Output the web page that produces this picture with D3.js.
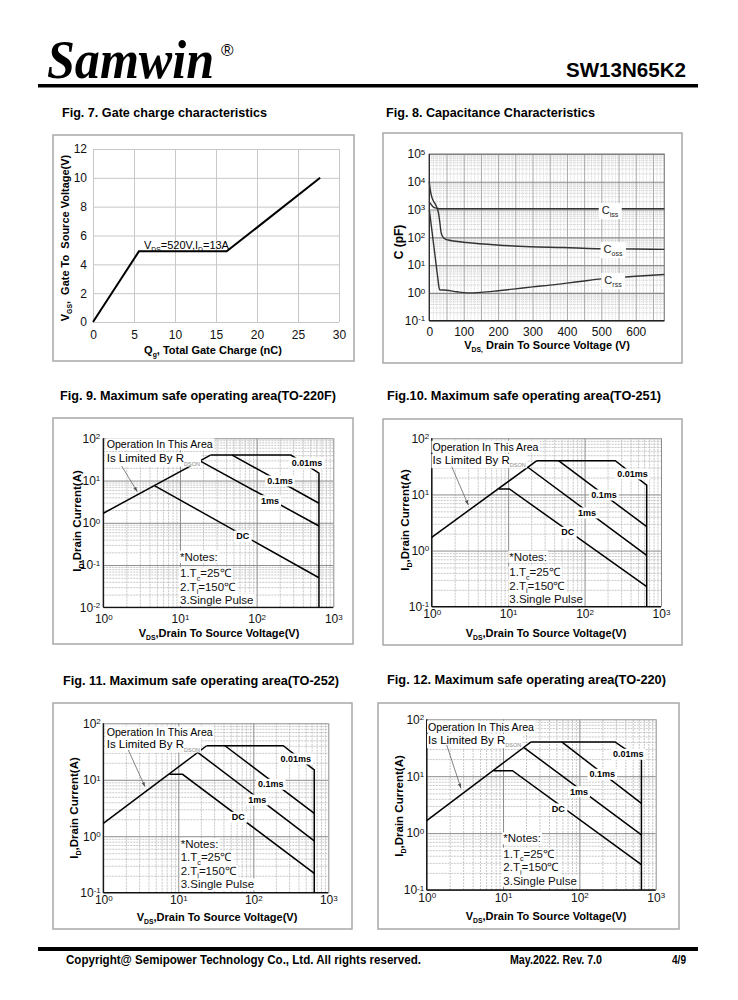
<!DOCTYPE html>
<html><head><meta charset="utf-8">
<script src="https://cdn.jsdelivr.net/npm/d3@7"></script>
<style>body{margin:0;background:#fff;} svg{display:block;font-family:"Liberation Sans",Arial,sans-serif;} text{white-space:pre;}</style>
</head><body><svg id="page" width="738" height="1000"></svg>
<script>
// ---------------- DATA ----------------
// Fig 7 gate charge
const gateQg = [0, 5.6, 16.3, 27.7];
const gateVgs = [0, 4.9, 4.9, 10];
const gateXTicks = [0, 5, 10, 15, 20, 25, 30];
const gateYTicks = [0, 2, 4, 6, 8, 10, 12];

// Fig 8 capacitance
const capXTicks = [0, 100, 200, 300, 400, 500, 600];
const capYTicks = [0.1, 1, 10, 100, 1000, 10000, 100000];
const cissV = [0, 5, 10, 15, 20, 25, 30, 50, 100, 683];
const cissC = [1900, 1550, 1300, 1180, 1120, 1090, 1075, 1070, 1070, 1070];
const cossV = [0, 3, 7, 12, 19, 23, 27, 31, 34, 39, 45, 55, 70, 108, 196, 293, 390, 487, 600, 683];
const cossC = [10000, 5000, 2900, 2040, 1450, 1100, 720, 316, 158, 105, 89, 80, 74, 65, 53, 46, 43, 39, 38, 37];
const crssV = [0, 5, 10, 15, 20, 25, 28, 30, 50, 80, 110, 150, 200, 250, 300, 350, 400, 450, 500, 550, 600, 683];
const crssC = [1000, 320, 100, 32, 10, 3.2, 1.6, 1.3, 1.25, 1.1, 1.0, 1.05, 1.2, 1.4, 1.65, 1.9, 2.25, 2.7, 3.2, 3.6, 4.0, 4.6];

// SOA charts
const soaXTicks = [1, 10, 100, 1000];
const fig9YTicks = [0.01, 0.1, 1, 10, 100];
const soaYTicks = [0.1, 1, 10, 100];

const fig9Rdson = [[1, 1.68], [25, 40]];
const fig9Ms001 = [[25, 40], [280, 40], [650, 15], [650, 0.01]];
const fig9Ms01 = [[48, 40], [650, 2.9]];
const fig9Ms1 = [[18.2, 29.3], [650, 0.84]];
const fig9DC = [[4.7, 7.5], [650, 0.05]];

const fig10Rdson = [[1, 1.72], [23.8, 40]];
const fig10Ms001 = [[23.8, 40], [252, 40], [650, 14.7], [650, 0.1]];
const fig10Ms01 = [[45.6, 40], [650, 2.66]];
const fig10Ms1 = [[18.1, 30.5], [650, 0.82]];
const fig10DC = [[7.6, 12.5], [10.4, 12.5], [650, 0.227]];

const fig11Rdson = [[1, 1.69], [23.9, 40]];
const fig11Ms001 = [[23.9, 40], [251, 40], [650, 14.9], [650, 0.1]];
const fig11Ms01 = [[41.9, 40], [650, 2.54]];
const fig11Ms1 = [[18.5, 30], [650, 0.83]];
const fig11DC = [[7.6, 12.5], [11.4, 12.5], [650, 0.22]];

const fig12Rdson = [[1, 1.66], [23.3, 40]];
const fig12Ms001 = [[23.3, 40], [293, 40], [650, 19.3], [650, 0.1]];
const fig12Ms01 = [[58.7, 40], [650, 3.34]];
const fig12Ms1 = [[19, 31.5], [650, 0.93]];
const fig12DC = [[7.5, 12.5], [13.3, 12.5], [650, 0.28]];

// ---------------- DRAWING ----------------
const FONT = '"Liberation Sans", Arial, sans-serif';
const SERIF = '"Liberation Serif", "Times New Roman", serif';
const svg = d3.select('#page');
svg.append('rect').attr('width', 738).attr('height', 1000).attr('fill', '#fff');

function richText(g, x, y, parts, size, opts = {}) {
  const t = g.append('text').attr('x', x).attr('y', y).attr('font-size', size)
    .attr('font-family', FONT).attr('fill', opts.fill || '#000');
  if (opts.weight) t.attr('font-weight', opts.weight);
  if (opts.anchor) t.attr('text-anchor', opts.anchor);
  if (opts.transform) t.attr('transform', opts.transform);
  if (opts.len) t.attr('textLength', opts.len).attr('lengthAdjust', 'spacingAndGlyphs');
  let shift = 0;
  parts.forEach(p => {
    const s = t.append('tspan').text(p.t);
    const target = p.sub ? size * 0.28 : (p.sup ? -size * 0.42 : 0);
    if (target - shift !== 0) s.attr('dy', target - shift);
    shift = target;
    if (p.sub || p.sup) s.attr('font-size', p.size || size * 0.62);
    if (p.fill) s.attr('fill', p.fill);
  });
  return t;
}
function withBg(g, t, padX = 1, padY = 0) {
  const b = t.node().getBBox();
  g.insert('rect', () => t.node()).attr('x', b.x - padX).attr('y', b.y - padY)
    .attr('width', b.width + 2 * padX).attr('height', b.height + 2 * padY).attr('fill', '#fff');
  return t;
}
function frame(x, y, w, h) {
  svg.append('rect').attr('x', x).attr('y', y).attr('width', w).attr('height', h)
    .attr('fill', 'none').attr('stroke', '#a8a8a8').attr('stroke-width', 1.5);
}
function styleAxis(a, color, width, dash) {
  a.select('.domain').remove();
  a.selectAll('.tick line').attr('stroke', color).attr('stroke-width', width).attr('stroke-dasharray', dash || null);
  a.attr('font-family', FONT).attr('font-size', 12);
  a.selectAll('.tick text').attr('fill', '#111');
}
function supLabels(a) {
  a.selectAll('.tick text').each(function (d) {
    const t = d3.select(this); t.text(null);
    t.append('tspan').text('10');
    t.append('tspan').attr('dy', '-0.45em').attr('font-size', 8).text(String(Math.round(Math.log10(d))));
  });
}
function logMinors(lo, hi) {
  const out = [];
  for (let d = Math.round(Math.log10(lo)); d < Math.round(Math.log10(hi)); d++)
    for (let k = 2; k <= 9; k++) out.push(k * Math.pow(10, d));
  return out;
}

// Header
const logo = svg.append('text').attr('x', 47).attr('y', 78).attr('font-family', SERIF);
logo.append('tspan').attr('font-style', 'italic').attr('font-weight', 'bold').attr('font-size', 54)
  .attr('textLength', 167).attr('lengthAdjust', 'spacingAndGlyphs').text('Samwin');
logo.append('tspan').attr('x', 221).attr('dy', -22).attr('font-family', FONT).attr('font-size', 17).text('®');
svg.append('text').attr('x', 566).attr('y', 77).attr('font-family', FONT).attr('font-weight', 'bold').attr('font-size', 20)
  .attr('textLength', 120).attr('lengthAdjust', 'spacingAndGlyphs').text('SW13N65K2');
svg.append('rect').attr('x', 38).attr('y', 84).attr('width', 660).attr('height', 3.5).attr('fill', '#000');

// Footer
svg.append('rect').attr('x', 38).attr('y', 947).attr('width', 660).attr('height', 4).attr('fill', '#000');
[['Copyright@ Semipower Technology Co., Ltd. All rights reserved.', 66, 355],
 ['May.2022. Rev. 7.0', 510, 92], ['4/9', 672, 14]].forEach(([s, x, w]) => {
  svg.append('text').attr('x', x).attr('y', 964).attr('font-family', FONT).attr('font-weight', 'bold')
    .attr('font-size', 12).attr('textLength', w).attr('lengthAdjust', 'spacingAndGlyphs').text(s);
});

// Figure titles
[['Fig. 7. Gate charge characteristics', 62, 205, 116.5],
 ['Fig. 8. Capacitance Characteristics', 386, 209, 116.5],
 ['Fig. 9. Maximum safe operating area(TO-220F)', 60, 276, 399.5],
 ['Fig.10. Maximum safe operating area(TO-251)', 387, 274, 399.5],
 ['Fig. 11. Maximum safe operating area(TO-252)', 63, 276, 684.5],
 ['Fig. 12. Maximum safe operating area(TO-220)', 387, 279, 683.5]].forEach(([s, x, w, y]) => {
  svg.append('text').attr('x', x).attr('y', y).attr('font-family', FONT).attr('font-weight', 'bold')
    .attr('font-size', 12.5).attr('textLength', w).attr('lengthAdjust', 'spacingAndGlyphs').text(s);
});

// ---------- Fig 7 ----------
(function () {
  frame(53, 135, 301, 226);
  const g = svg.append('g');
  const x = d3.scaleLinear([0, 30], [93, 339]);
  const y = d3.scaleLinear([0, 12], [322, 149]);
  const xa = g.append('g').attr('transform', 'translate(0,322)')
    .call(d3.axisBottom(x).tickValues(gateXTicks).tickSize(-(322 - 149)).tickPadding(8.5));
  styleAxis(xa, '#c8c8c8', 1);
  const ya = g.append('g').attr('transform', 'translate(93,0)')
    .call(d3.axisLeft(y).tickValues(gateYTicks).tickSize(-(339 - 93)).tickPadding(6));
  styleAxis(ya, '#c8c8c8', 1);
  const line = d3.line().x((d, i) => x(gateQg[i])).y((d, i) => y(gateVgs[i]));
  g.append('path').attr('d', line(gateQg)).attr('fill', 'none').attr('stroke', '#000').attr('stroke-width', 2);
  richText(g, 144, 248.5, [{ t: 'V' }, { t: 'DS', sub: true }, { t: '=520V,I' }, { t: 'D', sub: true }, { t: '=13A' }], 11);
  richText(g, 213, 354, [{ t: 'Q' }, { t: 'g', sub: true }, { t: ', Total Gate Charge (nC)' }], 11, { weight: 'bold', anchor: 'middle' });
  richText(g, 0, 4, [{ t: 'V' }, { t: 'GS', sub: true }, { t: ',  Gate To  Source Voltage(V)' }], 11,
    { weight: 'bold', anchor: 'middle', transform: 'translate(65,238) rotate(-90)' });
})();

// ---------- Fig 8 ----------
(function () {
  frame(383, 133, 299, 230);
  const g = svg.append('g');
  const X0 = 429.3, X1 = 664.3, Y0 = 154, Y1 = 320.7;
  const x = d3.scaleLinear([0, 683], [X0, X1]);
  const y = d3.scaleLog([0.1, 1e5], [Y1, Y0]);
  const vMinor = d3.range(10, 683, 10).filter(v => v % 50 !== 0);
  const vMajor = d3.range(50, 683, 50);
  styleAxis(g.append('g').attr('transform', `translate(0,${Y1})`)
    .call(d3.axisBottom(x).tickValues(vMinor).tickSize(-(Y1 - Y0)).tickFormat('')), '#c4c4c4', 0.7, '1,1');
  styleAxis(g.append('g').attr('transform', `translate(${X0},0)`)
    .call(d3.axisLeft(y).tickValues(logMinors(0.1, 1e5)).tickSize(-(X1 - X0)).tickFormat('')), '#b4b4b4', 0.7, '1,1');
  styleAxis(g.append('g').attr('transform', `translate(0,${Y1})`)
    .call(d3.axisBottom(x).tickValues(vMajor).tickSize(-(Y1 - Y0)).tickFormat('')), '#a8a8a8', 1);
  const xa = g.append('g').attr('transform', `translate(0,${Y1})`)
    .call(d3.axisBottom(x).tickValues(capXTicks).tickSize(0).tickPadding(6.5));
  styleAxis(xa, '#999', 1);
  const ya = g.append('g').attr('transform', `translate(${X0},0)`)
    .call(d3.axisLeft(y).tickValues(capYTicks).tickSize(-(X1 - X0)).tickPadding(4));
  styleAxis(ya, '#8a8a8a', 1.1); supLabels(ya);
  g.append('rect').attr('x', X0).attr('y', Y0).attr('width', X1 - X0).attr('height', Y1 - Y0)
    .attr('fill', 'none').attr('stroke', '#777').attr('stroke-width', 1);
  g.append('line').attr('x1', X0).attr('x2', X0).attr('y1', Y0).attr('y2', Y1).attr('stroke', '#222').attr('stroke-width', 1.2);
  g.append('line').attr('x1', X0).attr('x2', X1).attr('y1', Y1).attr('y2', Y1).attr('stroke', '#222').attr('stroke-width', 1.2);
  const mk = (vs, cs) => d3.line().curve(d3.curveMonotoneX).x((d, i) => x(vs[i])).y((d, i) => y(cs[i]))(vs);
  [[cissV, cissC], [cossV, cossC], [crssV, crssC]].forEach(([v, c]) =>
    g.append('path').attr('d', mk(v, c)).attr('fill', 'none').attr('stroke', '#333').attr('stroke-width', 1.4));
  [['iss', 610, 214], ['oss', 613, 253], ['rss', 613, 284]].forEach(([s, cx, cy]) => {
    withBg(g, richText(g, cx, cy, [{ t: 'C' }, { t: s, sub: true, size: 7 }], 11, { anchor: 'middle', fill: '#222' }), 3, 1);
  });
  richText(g, 547, 349, [{ t: 'V' }, { t: 'DS,', sub: true }, { t: ' Drain To Source Voltage (V)' }], 11, { weight: 'bold', anchor: 'middle' });
  richText(g, 0, 4, [{ t: 'C (pF)' }], 12, { weight: 'bold', anchor: 'middle', transform: 'translate(399,242) rotate(-90)' });
})();

// ---------- SOA charts ----------
svg.append('defs').append('marker').attr('id', 'arr').attr('viewBox', '0 0 10 10').attr('refX', 10).attr('refY', 5)
  .attr('markerWidth', 6).attr('markerHeight', 6).attr('orient', 'auto')
  .append('path').attr('d', 'M0,1.5 L10,5 L0,8.5 Z').attr('fill', '#555');

function drawSOA(c) {
  frame(...c.frame);
  const g = svg.append('g');
  const [X0, X1] = c.px, [Y0, Y1] = c.py;
  const x = d3.scaleLog([1, 1000], [X0, X1]);
  const y = d3.scaleLog(c.yDomain, [Y1, Y0]);
  styleAxis(g.append('g').attr('transform', `translate(0,${Y1})`)
    .call(d3.axisBottom(x).tickValues(logMinors(1, 1000)).tickSize(-(Y1 - Y0)).tickFormat('')), '#b0b0b0', 0.7, '2,1');
  styleAxis(g.append('g').attr('transform', `translate(${X0},0)`)
    .call(d3.axisLeft(y).tickValues(logMinors(...c.yDomain)).tickSize(-(X1 - X0)).tickFormat('')), '#b0b0b0', 0.7, '2,1');
  const xa = g.append('g').attr('transform', `translate(0,${Y1})`)
    .call(d3.axisBottom(x).tickValues(soaXTicks).tickSize(-(Y1 - Y0)).tickPadding(c.xPad));
  styleAxis(xa, '#8c8c8c', 1); supLabels(xa);
  const ya = g.append('g').attr('transform', `translate(${X0},0)`)
    .call(d3.axisLeft(y).tickValues(c.yTicks).tickSize(-(X1 - X0)).tickPadding(c.yPad));
  styleAxis(ya, '#8c8c8c', 1); supLabels(ya);
  g.append('line').attr('x1', X0).attr('x2', X0).attr('y1', Y0).attr('y2', Y1).attr('stroke', '#111').attr('stroke-width', 1.3);
  g.append('line').attr('x1', X0).attr('x2', X1).attr('y1', Y1).attr('y2', Y1).attr('stroke', '#111').attr('stroke-width', 1.3);
  const line = d3.line().x(d => x(d[0])).y(d => y(d[1]));
  c.series.forEach(s => g.append('path').attr('d', line(s)).attr('fill', 'none').attr('stroke', '#000').attr('stroke-width', 1.5));
  // curve labels
  c.labels.forEach(([s, cx, cy]) => withBg(g, richText(g, cx, cy + 3, [{ t: s }], 9, { weight: 'bold', anchor: 'middle' }), 2, 0.5));
  // Rdson note
  const [ox, oy1, oy2] = c.op;
  withBg(g, richText(g, ox, oy1 + 4, [{ t: 'Operation In This Area' }], 11.5, { len: 106 }), 1, 0);
  withBg(g, richText(g, ox, oy2 + 4, [{ t: 'Is Limited By R' }, { t: 'DSON', sub: true, size: 5.5, fill: '#888' }], 11.5), 1, 0);
  g.append('line').attr('x1', c.arrow[0]).attr('y1', c.arrow[1]).attr('x2', c.arrow[2]).attr('y2', c.arrow[3])
    .attr('stroke', '#666').attr('stroke-width', 0.8).attr('marker-end', 'url(#arr)');
  const [nx, ...ny] = c.notes;
  const noteParts = [[{ t: '*Notes:' }], [{ t: '1.T' }, { t: 'c', sub: true }, { t: '=25℃' }],
    [{ t: '2.T' }, { t: 'j', sub: true }, { t: '=150℃' }], [{ t: '3.Single Pulse' }]];
  noteParts.forEach((p, i) => withBg(g, richText(g, nx, ny[i] + 4, p, 11.5, { fill: '#111' }), 1, 0));
  richText(g, c.xt[0], c.xt[1] + 4, [{ t: 'V' }, { t: 'DS', sub: true }, { t: ',Drain To Source Voltage(V)' }], 11, { weight: 'bold', anchor: 'middle' });
  richText(g, 0, 4, [{ t: 'I' }, { t: 'D', sub: true }, { t: ',Drain Current(A)' }], 11.5,
    { weight: 'bold', anchor: 'middle', transform: `translate(${c.yt[0]},${c.yt[1]}) rotate(-90)` });
}

drawSOA({
  frame: [53, 418, 300, 226], px: [103.3, 333.3], py: [438.3, 607.3], yDomain: [0.01, 100], yTicks: fig9YTicks,
  xPad: 7.5, yPad: 3, series: [fig9Rdson, fig9Ms001, fig9Ms01, fig9Ms1, fig9DC],
  labels: [['0.01ms', 307, 463], ['0.1ms', 280, 481], ['1ms', 270, 500.7], ['DC', 242.7, 536]],
  op: [106.7, 444.3, 458.3], arrow: [121.7, 466, 137.3, 491.7], notes: [180, 556.7, 573.3, 586.7, 600],
  xt: [219, 633], yt: [77, 521]
});
drawSOA({
  frame: [383, 419, 299, 226], px: [431.7, 661], py: [438.3, 606.7], yDomain: [0.1, 100], yTicks: soaYTicks,
  xPad: 3, yPad: 2.5, series: [fig10Rdson, fig10Ms001, fig10Ms01, fig10Ms1, fig10DC],
  labels: [['0.01ms', 632.5, 474], ['0.1ms', 604, 495], ['1ms', 587, 513], ['DC', 567.7, 532.3]],
  op: [432.5, 446.7, 460], arrow: [451.7, 466.7, 468.3, 505], notes: [509.3, 556.7, 572.3, 585.7, 599],
  xt: [546, 633], yt: [405, 520]
});
drawSOA({
  frame: [53, 703, 299, 226], px: [103.3, 328.3], py: [723.3, 892.7], yDomain: [0.1, 100], yTicks: soaYTicks,
  xPad: 3, yPad: 2.5, series: [fig11Rdson, fig11Ms001, fig11Ms01, fig11Ms1, fig11DC],
  labels: [['0.01ms', 295.8, 759], ['0.1ms', 270.7, 784.3], ['1ms', 257.3, 800], ['DC', 238.3, 817.3]],
  op: [106.7, 732.3, 744.3], arrow: [128.3, 750, 145, 786.7], notes: [180.7, 844, 857.3, 871, 884.3],
  xt: [217, 916.5], yt: [74, 808]
});
drawSOA({
  frame: [378, 703, 301, 226], px: [426.7, 655.7], py: [719.3, 890], yDomain: [0.1, 100], yTicks: soaYTicks,
  xPad: 3, yPad: 2.5, series: [fig12Rdson, fig12Ms001, fig12Ms01, fig12Ms1, fig12DC],
  labels: [['0.01ms', 628.3, 754.3], ['0.1ms', 602.3, 774.3], ['1ms', 579, 791.7], ['DC', 558.3, 809]],
  op: [428, 726.7, 740], arrow: [446.7, 745, 461, 788.3], notes: [503.3, 838.3, 853.7, 867.3, 880.7],
  xt: [546, 916], yt: [399, 806]
});
</script></body></html>
